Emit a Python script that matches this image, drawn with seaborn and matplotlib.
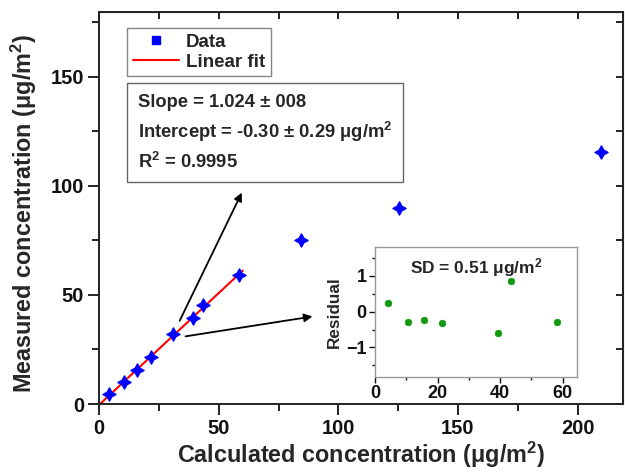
import numpy as np
import pandas as pd
import matplotlib
matplotlib.use("Agg")
import matplotlib.pyplot as plt
from matplotlib.lines import Line2D
from matplotlib.patches import Rectangle
import seaborn as sns

# ---- data ----
calc_conc = [4.2, 10.3, 15.6, 21.5, 31.0, 39.3, 43.5, 58.4, 84.3, 125.5, 210.0]
meas_conc = [4.6, 10.2, 15.6, 21.4, 32.1, 39.3, 45.3, 59.1, 75.1, 89.6, 115.3]
fit_slope = 1.024
fit_intercept = -0.30
fit_range = [0, 60]
resid_x = [4.3, 10.5, 15.6, 21.5, 39.4, 43.6, 58.2]
resid_y = [0.23, -0.28, -0.23, -0.33, -0.59, 0.87, -0.30]
main_xticks = [0, 50, 100, 150, 200]
main_yticks = [0, 50, 100, 150]
inset_xticks = [0, 20, 40, 60]
inset_yticks = [-1, 0, 1]
box_lines = ["Slope = 1.024 ± 008",
             "Intercept = -0.30 ± 0.29 μg/m$^{2}$",
             "R$^{2}$ = 0.9995"]

sns.set_style("ticks")
plt.rcParams['font.family'] = ['Liberation Sans', 'DejaVu Sans']
plt.rcParams['font.weight'] = 'bold'
plt.rcParams['mathtext.fontset'] = 'custom'
plt.rcParams['mathtext.rm'] = 'Liberation Sans:bold'
plt.rcParams['mathtext.bf'] = 'Liberation Sans:bold'
plt.rcParams['mathtext.it'] = 'Liberation Sans:bold'

W, H = 625, 472
fig = plt.figure(figsize=(W / 100, H / 100), dpi=100)
L, R, T, B = 99.3, 623.0, 12.3, 404.0
ax = fig.add_axes([L / W, 1 - B / H, (R - L) / W, (B - T) / H])


def af(px, py):
    """pixel position (from top-left) -> axes fraction"""
    return (px - L) / (R - L), (B - py) / (B - T)


df = pd.DataFrame({"x": calc_conc, "y": meas_conc})
fx = np.linspace(fit_range[0], fit_range[1], 50)
fdf = pd.DataFrame({"x": fx, "y": fit_slope * fx + fit_intercept})

sns.lineplot(data=fdf, x="x", y="y", color="red", linewidth=1.5, ax=ax, zorder=2)
sns.scatterplot(data=df, x="x", y="y", marker=(4, 1, 0), s=90, color="blue",
                edgecolor="blue", linewidth=1.0, ax=ax, zorder=3)

ax.set_xlim(0, 219)
ax.set_ylim(0, 179.5)
ax.set_xticks(main_xticks)
ax.set_yticks(main_yticks)
ax.set_xticks([25, 75, 125, 175], minor=True)
ax.set_yticks([25, 75, 125, 175], minor=True)
ax.tick_params(which="major", direction="out", length=8, width=1.3,
               labelsize=14.5, colors="#111111", pad=3)
ax.tick_params(which="minor", direction="out", length=5, width=1.3, colors="#111111")
for sp in ax.spines.values():
    sp.set_linewidth(1.4)
    sp.set_color("#222222")
    sp.set_visible(True)
for lab in ax.get_xticklabels() + ax.get_yticklabels():
    lab.set_fontweight("bold")

# mirrored inward ticks on top / right
top = ax.secondary_xaxis("top")
top.set_xticks(main_xticks + [25, 75, 125, 175])
top.tick_params(direction="in", length=5, width=1.3, labeltop=False, colors="#111111")
top.set_xticklabels([])
right = ax.secondary_yaxis("right")
right.set_yticks(main_yticks + [25, 75, 125, 175])
right.tick_params(direction="in", length=5, width=1.3, labelright=False, colors="#111111")
right.set_yticklabels([])

ax.set_xlabel("Calculated concentration (μg/m$^{2}$)", fontsize=16.8,
              fontweight="bold", labelpad=1)
ax.set_ylabel("Measured concentration (μg/m$^{2}$)", fontsize=16.8,
              fontweight="bold")
ax.yaxis.set_label_coords(-0.115, 0.485)

handles = [Line2D([], [], marker="s", color="blue", linestyle="none", markersize=6),
           Line2D([], [], color="red", linewidth=1.5)]
leg = ax.legend(handles, ["Data", "Linear fit"], loc="upper left",
                bbox_to_anchor=af(127, 28), borderaxespad=0, frameon=True,
                fancybox=False, edgecolor="#666666", handlelength=2.45,
                handletextpad=0.4, borderpad=0.3, labelspacing=0.15,
                prop={"weight": "bold", "size": 13.5})
leg.get_frame().set_linewidth(1.0)

# text box with fit results
x0, y0 = af(127, 181.7)
x1, y1 = af(402.7, 83.3)
ax.add_patch(Rectangle((x0, y0), x1 - x0, y1 - y0, transform=ax.transAxes,
                       facecolor="white", edgecolor="#666666", linewidth=1.0,
                       zorder=4))
for line, base in zip(box_lines, [107, 138, 168]):
    tx, ty = af(138, base)
    ax.text(tx, ty, line, transform=ax.transAxes, fontsize=13.2,
            fontweight="bold", va="baseline", ha="left", zorder=5)

ax.annotate("", xy=(60.1, 98), xytext=(33.1, 37),
            arrowprops=dict(arrowstyle="-|>", color="black", lw=1.3,
                            mutation_scale=12))
ax.annotate("", xy=(90.3, 40.3), xytext=(34.9, 30.8),
            arrowprops=dict(arrowstyle="-|>", color="black", lw=1.3,
                            mutation_scale=12))

# ---- inset ----
iL, iR, iT, iB = 375.0, 577.3, 246.7, 376.7
axin = fig.add_axes([iL / W, 1 - iB / H, (iR - iL) / W, (iB - iT) / H])
rdf = pd.DataFrame({"x": resid_x, "y": resid_y})
sns.scatterplot(data=rdf, x="x", y="y", color="#119911", s=24,
                edgecolor="#119911", ax=axin)
axin.set_xlim(0, 64.7)
axin.set_ylim(-1.82, 1.82)
axin.set_xticks(inset_xticks)
axin.set_yticks(inset_yticks)
axin.set_xticks([10, 30, 50], minor=True)
axin.set_yticks([-1.5, -0.5, 0.5, 1.5], minor=True)
axin.tick_params(which="major", direction="out", length=4, width=1.0,
                 labelsize=13, colors="#111111", pad=2)
axin.tick_params(which="minor", direction="out", length=2.5, width=1.0,
                 colors="#111111")
for sp in axin.spines.values():
    sp.set_linewidth(1.0)
    sp.set_color("#999999")
    sp.set_visible(True)
for lab in axin.get_xticklabels() + axin.get_yticklabels():
    lab.set_fontweight("bold")
axin.set_xlabel("")
axin.set_ylabel("Residual", fontsize=12.3, fontweight="bold", labelpad=3)
axin.text(0.5, 0.93, "SD = 0.51 μg/m$^{2}$", transform=axin.transAxes,
          fontsize=12.5, fontweight="bold", ha="center", va="top")

fig.savefig("out.png", dpi=100)
